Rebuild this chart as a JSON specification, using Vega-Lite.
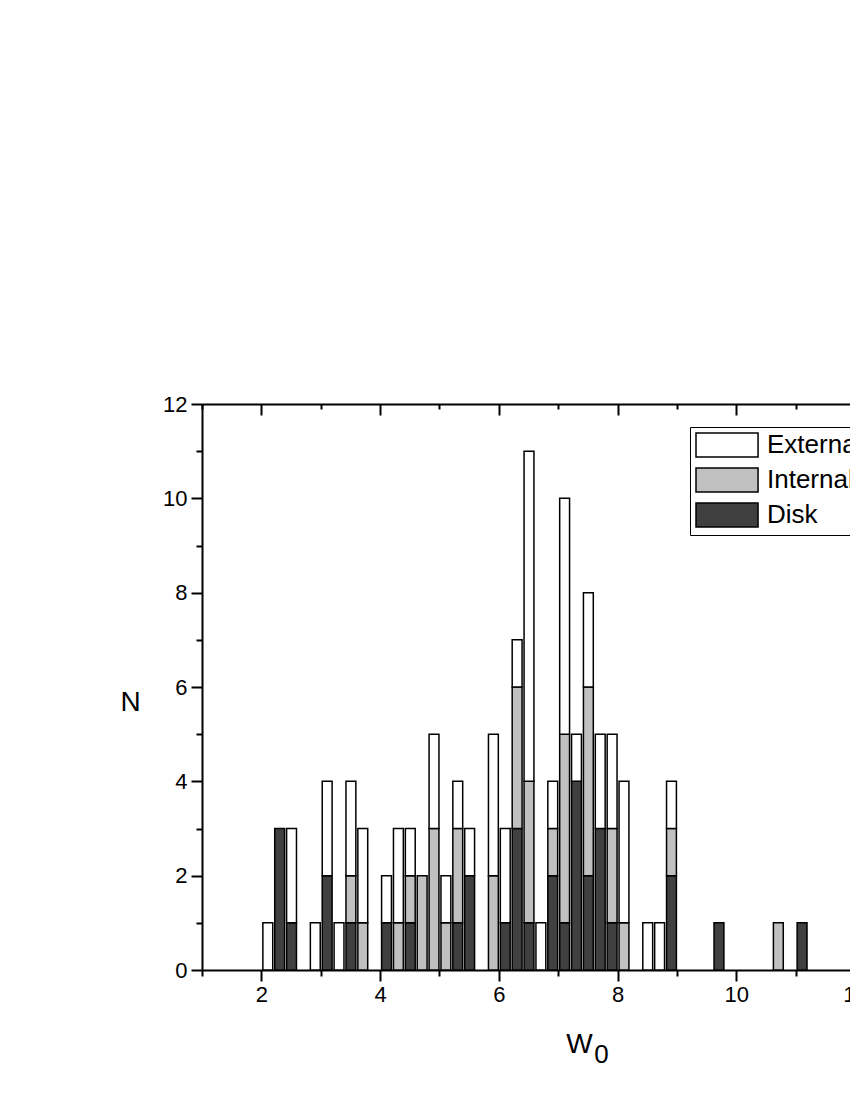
{
  "$schema": "https://vega.github.io/schema/vega-lite/v6.json",
  "width": 653,
  "height": 566,
  "autosize": {"type": "none"},
  "padding": {"left": 202, "top": 404, "right": -5, "bottom": 130},
  "background": "white",
  "config": {
    "font": "Liberation Sans",
    "view": {"stroke": null},
    "bar": {"binSpacing": 2}
  },
  "data": {
    "values": [
      {"lo": 2.0, "hi": 2.2, "type": "External", "n": 1},
      {"lo": 2.2, "hi": 2.4, "type": "Disk", "n": 3},
      {"lo": 2.4, "hi": 2.6, "type": "Disk", "n": 1},
      {"lo": 2.4, "hi": 2.6, "type": "External", "n": 2},
      {"lo": 2.8, "hi": 3.0, "type": "External", "n": 1},
      {"lo": 3.0, "hi": 3.2, "type": "Disk", "n": 2},
      {"lo": 3.0, "hi": 3.2, "type": "External", "n": 2},
      {"lo": 3.2, "hi": 3.4, "type": "External", "n": 1},
      {"lo": 3.4, "hi": 3.6, "type": "Disk", "n": 1},
      {"lo": 3.4, "hi": 3.6, "type": "Internal", "n": 1},
      {"lo": 3.4, "hi": 3.6, "type": "External", "n": 2},
      {"lo": 3.6, "hi": 3.8, "type": "Internal", "n": 1},
      {"lo": 3.6, "hi": 3.8, "type": "External", "n": 2},
      {"lo": 4.0, "hi": 4.2, "type": "Disk", "n": 1},
      {"lo": 4.0, "hi": 4.2, "type": "External", "n": 1},
      {"lo": 4.2, "hi": 4.4, "type": "Internal", "n": 1},
      {"lo": 4.2, "hi": 4.4, "type": "External", "n": 2},
      {"lo": 4.4, "hi": 4.6, "type": "Disk", "n": 1},
      {"lo": 4.4, "hi": 4.6, "type": "Internal", "n": 1},
      {"lo": 4.4, "hi": 4.6, "type": "External", "n": 1},
      {"lo": 4.6, "hi": 4.8, "type": "Internal", "n": 2},
      {"lo": 4.8, "hi": 5.0, "type": "Internal", "n": 3},
      {"lo": 4.8, "hi": 5.0, "type": "External", "n": 2},
      {"lo": 5.0, "hi": 5.2, "type": "Internal", "n": 1},
      {"lo": 5.0, "hi": 5.2, "type": "External", "n": 1},
      {"lo": 5.2, "hi": 5.4, "type": "Disk", "n": 1},
      {"lo": 5.2, "hi": 5.4, "type": "Internal", "n": 2},
      {"lo": 5.2, "hi": 5.4, "type": "External", "n": 1},
      {"lo": 5.4, "hi": 5.6, "type": "Disk", "n": 2},
      {"lo": 5.4, "hi": 5.6, "type": "External", "n": 1},
      {"lo": 5.8, "hi": 6.0, "type": "Internal", "n": 2},
      {"lo": 5.8, "hi": 6.0, "type": "External", "n": 3},
      {"lo": 6.0, "hi": 6.2, "type": "Disk", "n": 1},
      {"lo": 6.0, "hi": 6.2, "type": "External", "n": 2},
      {"lo": 6.2, "hi": 6.4, "type": "Disk", "n": 3},
      {"lo": 6.2, "hi": 6.4, "type": "Internal", "n": 3},
      {"lo": 6.2, "hi": 6.4, "type": "External", "n": 1},
      {"lo": 6.4, "hi": 6.6, "type": "Disk", "n": 1},
      {"lo": 6.4, "hi": 6.6, "type": "Internal", "n": 3},
      {"lo": 6.4, "hi": 6.6, "type": "External", "n": 7},
      {"lo": 6.6, "hi": 6.8, "type": "External", "n": 1},
      {"lo": 6.8, "hi": 7.0, "type": "Disk", "n": 2},
      {"lo": 6.8, "hi": 7.0, "type": "Internal", "n": 1},
      {"lo": 6.8, "hi": 7.0, "type": "External", "n": 1},
      {"lo": 7.0, "hi": 7.2, "type": "Disk", "n": 1},
      {"lo": 7.0, "hi": 7.2, "type": "Internal", "n": 4},
      {"lo": 7.0, "hi": 7.2, "type": "External", "n": 5},
      {"lo": 7.2, "hi": 7.4, "type": "Disk", "n": 4},
      {"lo": 7.2, "hi": 7.4, "type": "External", "n": 1},
      {"lo": 7.4, "hi": 7.6, "type": "Disk", "n": 2},
      {"lo": 7.4, "hi": 7.6, "type": "Internal", "n": 4},
      {"lo": 7.4, "hi": 7.6, "type": "External", "n": 2},
      {"lo": 7.6, "hi": 7.8, "type": "Disk", "n": 3},
      {"lo": 7.6, "hi": 7.8, "type": "External", "n": 2},
      {"lo": 7.8, "hi": 8.0, "type": "Disk", "n": 1},
      {"lo": 7.8, "hi": 8.0, "type": "Internal", "n": 2},
      {"lo": 7.8, "hi": 8.0, "type": "External", "n": 2},
      {"lo": 8.0, "hi": 8.2, "type": "Internal", "n": 1},
      {"lo": 8.0, "hi": 8.2, "type": "External", "n": 3},
      {"lo": 8.4, "hi": 8.6, "type": "External", "n": 1},
      {"lo": 8.6, "hi": 8.8, "type": "External", "n": 1},
      {"lo": 8.8, "hi": 9.0, "type": "Disk", "n": 2},
      {"lo": 8.8, "hi": 9.0, "type": "Internal", "n": 1},
      {"lo": 8.8, "hi": 9.0, "type": "External", "n": 1},
      {"lo": 9.6, "hi": 9.8, "type": "Disk", "n": 1},
      {"lo": 10.6, "hi": 10.8, "type": "Internal", "n": 1},
      {"lo": 11.0, "hi": 11.2, "type": "Disk", "n": 1}
    ]
  },
  "transform": [
    {"calculate": "indexof(['Disk','Internal','External'], datum.type)", "as": "stackorder"}
  ],
  "layer": [
    {
      "mark": {"type": "bar", "stroke": "black", "strokeWidth": 1.5},
      "encoding": {
        "x": {
          "field": "lo", "type": "quantitative", "bin": "binned",
          "scale": {"domain": [1, 12], "nice": false, "zero": false},
          "axis": {
            "orient": "bottom",
            "values": [1, 2, 3, 4, 5, 6, 7, 8, 9, 10, 11, 12],
            "labelExpr": "datum.value % 2 == 0 ? datum.label : ''",
            "labelFontSize": 22, "labelColor": "black", "labelPadding": 3,
            "labelFlush": false, "labelOverlap": false,
            "tickSize": {"condition": {"test": "datum.value % 2 == 0", "value": 11}, "value": 6},
            "tickWidth": 2, "tickColor": "black",
            "domainColor": "black", "domainWidth": 2,
            "grid": false,
            "title": "W",
            "titleFontSize": 28, "titleFontWeight": "normal", "titleColor": "black",
            "titleX": 377, "titleY": 74, "titleAlign": "center", "titleBaseline": "middle"
          }
        },
        "x2": {"field": "hi"},
        "y": {
          "field": "n", "type": "quantitative", "stack": "zero",
          "scale": {"domain": [0, 12], "nice": false},
          "axis": {
            "values": [0, 1, 2, 3, 4, 5, 6, 7, 8, 9, 10, 11, 12],
            "labelExpr": "datum.value % 2 == 0 ? datum.label : ''",
            "labelFontSize": 22, "labelColor": "black", "labelPadding": 4,
            "labelFlush": false, "labelOverlap": false,
            "tickSize": {"condition": {"test": "datum.value % 2 == 0", "value": 11}, "value": 6},
            "tickWidth": 2, "tickColor": "black",
            "domainColor": "black", "domainWidth": 2,
            "grid": false,
            "title": "N", "titleAngle": 0,
            "titleFontSize": 28, "titleFontWeight": "normal", "titleColor": "black",
            "titleX": -72, "titleY": 298, "titleAlign": "center", "titleBaseline": "middle"
          }
        },
        "color": {
          "field": "type", "type": "nominal",
          "scale": {"domain": ["External", "Internal", "Disk"], "range": ["#ffffff", "#c0c0c0", "#404040"]},
          "legend": {
            "orient": "none", "legendX": 488, "legendY": 23,
            "title": null,
            "strokeColor": "black", "fillColor": "white", "padding": 5,
            "symbolType": "M-1,-1H4.17V1H-1Z",
            "symbolSize": 576,
            "symbolStrokeColor": "black", "symbolStrokeWidth": 1.5,
            "symbolOpacity": 1,
            "labelFontSize": 26, "labelColor": "black", "labelOffset": 46,
            "rowPadding": 5, "labelLimit": 400
          }
        },
        "order": {"field": "stackorder", "type": "quantitative"}
      }
    },
    {
      "mark": {"type": "rule", "opacity": 0},
      "encoding": {
        "x": {
          "field": "lo", "type": "quantitative",
          "axis": {
            "orient": "top",
            "values": [1, 2, 3, 4, 5, 6, 7, 8, 9, 10, 11, 12],
            "labels": false,
            "tickSize": {"condition": {"test": "datum.value % 2 == 0", "value": -11}, "value": -5},
            "tickWidth": 2, "tickColor": "black",
            "domainColor": "black", "domainWidth": 2,
            "grid": false,
            "title": "0",
            "titleFontSize": 26, "titleFontWeight": "normal", "titleColor": "black",
            "titleX": 399, "titleY": 650, "titleAlign": "center", "titleBaseline": "middle"
          }
        }
      }
    }
  ],
  "resolve": {"axis": {"x": "independent"}}
}
